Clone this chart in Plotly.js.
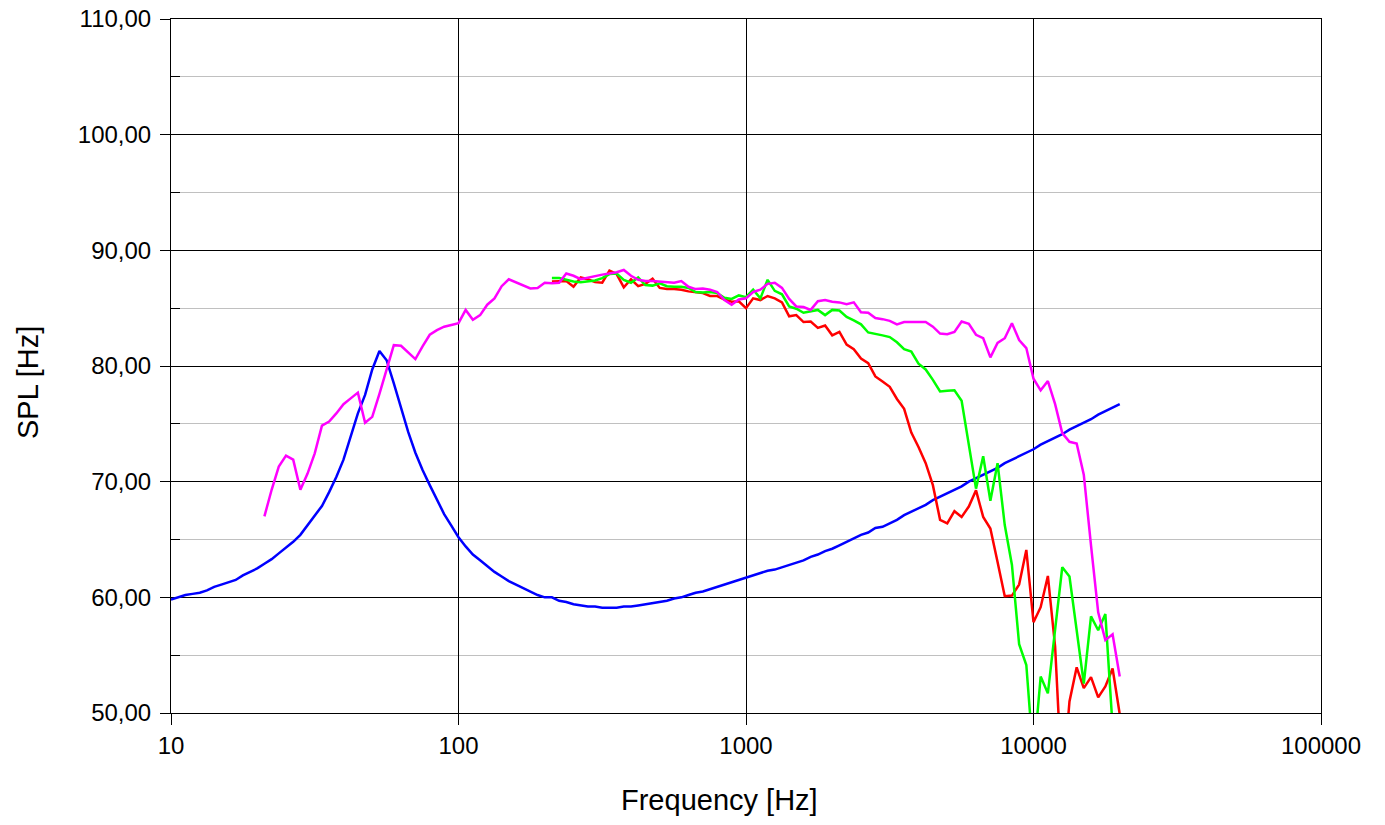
<!DOCTYPE html>
<html>
<head>
<meta charset="utf-8">
<script src="https://cdn.plot.ly/plotly-3.0.1.min.js"></script>
<style>
  html, body { margin: 0; padding: 0; background: #ffffff; }
  #chart { width: 1385px; height: 825px; }
</style>
</head>
<body>
<div id="chart"></div>
<script>
// Frequencies (Hz), 40 points per decade, shared by all curves
const freq = [
  10, 10.59, 11.22, 11.89, 12.59, 13.34, 14.13, 14.96, 15.85, 16.79,
  17.78, 18.84, 19.95, 21.13, 22.39, 23.71, 25.12, 26.61, 28.18, 29.85,
  31.62, 33.50, 35.48, 37.58, 39.81, 42.17, 44.67, 47.32, 50.12, 53.09,
  56.23, 59.57, 63.10, 66.83, 70.79, 74.99, 79.43, 84.14, 89.13, 94.41,
  100, 105.9, 112.2, 118.9, 125.9, 133.4, 141.3, 149.6, 158.5, 167.9,
  177.8, 188.4, 199.5, 211.3, 223.9, 237.1, 251.2, 266.1, 281.8, 298.5,
  316.2, 335.0, 354.8, 375.8, 398.1, 421.7, 446.7, 473.2, 501.2, 530.9,
  562.3, 595.7, 631.0, 668.3, 707.9, 749.9, 794.3, 841.4, 891.3, 944.1,
  1000, 1059, 1122, 1189, 1259, 1334, 1413, 1496, 1585, 1679,
  1778, 1884, 1995, 2113, 2239, 2371, 2512, 2661, 2818, 2985,
  3162, 3350, 3548, 3758, 3981, 4217, 4467, 4732, 5012, 5309,
  5623, 5957, 6310, 6683, 7079, 7499, 7943, 8414, 8913, 9441,
  10000, 10590, 11220, 11890, 12590, 13340, 14130, 14960, 15850, 16790,
  17780, 18840, 19950
];

// Blue curve (dB)
const splBlue = [
  59.8, 60.0, 60.2, 60.3, 60.4, 60.6, 60.9, 61.1, 61.3, 61.5,
  61.9, 62.2, 62.5, 62.9, 63.3, 63.8, 64.3, 64.8, 65.4, 66.2,
  67.0, 67.9, 69.1, 70.4, 71.9, 73.8, 75.9, 77.5, 79.7, 81.3,
  80.5, 78.5, 76.4, 74.3, 72.5, 71.0, 69.7, 68.5, 67.2, 66.2,
  65.2, 64.4, 63.7, 63.2, 62.7, 62.2, 61.8, 61.4, 61.1, 60.8,
  60.5, 60.2, 60.0, 60.0, 59.7, 59.6, 59.4, 59.3, 59.2, 59.2,
  59.1, 59.1, 59.1, 59.2, 59.2, 59.3, 59.4, 59.5, 59.6, 59.7,
  59.9, 60.0, 60.2, 60.4, 60.5, 60.7, 60.9, 61.1, 61.3, 61.5,
  61.7, 61.9, 62.1, 62.3, 62.4, 62.6, 62.8, 63.0, 63.2, 63.5,
  63.7, 64.0, 64.2, 64.5, 64.8, 65.1, 65.4, 65.6, 66.0, 66.1,
  66.4, 66.7, 67.1, 67.4, 67.7, 68.0, 68.4, 68.7, 69.0, 69.3,
  69.6, 70.0, 70.3, 70.6, 70.9, 71.2, 71.6, 71.9, 72.2, 72.5,
  72.8, 73.2, 73.5, 73.8, 74.1, 74.5, 74.8, 75.1, 75.4, 75.8,
  76.1, 76.4, 76.7
];

// Magenta curve (dB)
const splMagenta = [
  null, null, null, null, null, null, null, null, null, null,
  null, null, null,
  67.0, 69.3, 71.3, 72.25, 71.9, 69.3, 70.7, 72.45, 74.85, 75.2,
  75.9, 76.7, 77.2, 77.7, 75.1, 75.6, 77.6, 79.8, 81.8, 81.75,
  81.2, 80.6, 81.7, 82.7, 83.1, 83.4, 83.55, 83.7, 84.85, 84.0,
  84.4, 85.3, 85.85, 86.9, 87.5, 87.25, 87.0, 86.7, 86.75, 87.2,
  87.15, 87.2, 88.0, 87.8, 87.5, 87.65, 87.8, 87.9, 88.0, 88.1,
  88.3, 87.8, 87.45, 87.35, 87.35, 87.3, 87.25, 87.2, 87.35, 86.85,
  86.65, 86.7, 86.6, 86.4, 85.7, 85.3, 85.75, 85.85, 86.4, 86.6,
  87.1, 87.2, 86.75, 85.8, 85.15, 85.1, 84.85, 85.6, 85.7, 85.55,
  85.5, 85.35, 85.5, 84.65, 84.6, 84.15, 84.05, 83.9, 83.6, 83.8,
  83.8, 83.8, 83.8, 83.4, 82.8, 82.75, 82.95, 83.85, 83.65, 82.7,
  82.4, 80.75, 82.0, 82.4, 83.7, 82.25, 81.55, 78.9, 77.9, 78.7,
  76.7, 74.2, 73.45, 73.3, 70.6, 64.5, 58.7, 56.3, 56.8, 53.15
];

const lead53 = [
  null, null, null, null, null, null, null, null, null, null,
  null, null, null, null, null, null, null, null, null, null,
  null, null, null, null, null, null, null, null, null, null,
  null, null, null, null, null, null, null, null, null, null,
  null, null, null, null, null, null, null, null, null, null,
  null, null, null
];

// Red curve (dB), from about 210 Hz
const splRed = lead53.concat([
  87.3, 87.3, 87.35, 86.85, 87.65, 87.5, 87.25, 87.2, 88.25, 87.95,
  86.8, 87.5, 86.9, 87.1, 87.55, 86.75, 86.65, 86.65, 86.6, 86.45,
  86.4, 86.3, 86.05, 86.05, 85.75, 85.55, 85.6, 85.0, 85.85, 85.7,
  86.05, 85.85, 85.5, 84.3, 84.4, 83.8, 83.85, 83.3, 83.5, 82.65,
  82.95, 81.85, 81.45, 80.65, 80.25, 79.1, 78.65, 78.2, 77.15, 76.3,
  74.25, 73.0, 71.6, 69.7, 66.7, 66.4, 67.45, 66.95, 67.85, 69.25,
  66.95, 65.95, 63.05, 60.1, 60.15, 61.1, 64.1, 57.85, 59.15, 61.85,
  55.75, 43.5, 51.0, 53.95, 52.15, 53.1, 51.35, 52.3, 53.85, 49.9
]);

// Green curve (dB), from about 210 Hz
const splGreen = lead53.concat([
  87.6, 87.6, 87.45, 87.3, 87.25, 87.3, 87.4, 87.6, 87.95, 88.0,
  87.45, 87.2, 87.65, 87.0, 86.95, 87.15, 86.9, 86.85, 86.85, 86.75,
  86.4, 86.35, 86.4, 86.3, 85.9, 85.8, 86.1, 85.95, 86.6, 85.85,
  87.45, 86.5, 86.2, 85.15, 84.95, 84.6, 84.7, 84.85, 84.4, 84.85,
  84.8, 84.25, 83.95, 83.6, 82.9, 82.8, 82.65, 82.5, 82.05, 81.45,
  81.25, 80.2, 79.7, 78.8, 77.8, 77.85, 77.9, 77.0, 73.2, 69.4,
  72.2, 68.35, 71.6, 66.25, 62.8, 55.95, 54.15, 46.0, 53.15, 51.7,
  57.2, 62.6, 61.8, 57.0, 52.55, 58.35, 57.15, 58.55, 48.8, null
]);

// Axis ticks
const xTickVals = [10, 100, 1000, 10000, 100000];
const xTickText = ['10', '100', '1000', '10000', '100000'];
const yTickVals = [50, 60, 70, 80, 90, 100, 110];
const yTickText = ['50,00', '60,00', '70,00', '80,00', '90,00', '100,00', '110,00'];
const yMinorVals = [55, 65, 75, 85, 95, 105];

const xTitle = 'Frequency [Hz]';
const yTitle = 'SPL [Hz]';

const fontFamily = 'Liberation Sans, Arial, sans-serif';

function line(y, color) {
  return {
    x: freq, y: y, type: 'scatter', mode: 'lines',
    line: { color: color, width: 2.5 },
    connectgaps: false, hoverinfo: 'skip', showlegend: false
  };
}

const traces = [
  line(splBlue, '#0000ff'),
  line(splRed, '#ff0000'),
  line(splGreen, '#00ff00'),
  line(splMagenta, '#ff00ff')
];

const layout = {
  width: 1385, height: 825,
  margin: { l: 171, r: 64, t: 19, b: 112, pad: 0 },
  paper_bgcolor: '#ffffff', plot_bgcolor: '#ffffff',
  font: { family: fontFamily, size: 24, color: '#000000' },
  showlegend: false,
  xaxis: {
    type: 'log', range: [1, 5],
    tickmode: 'array', tickvals: xTickVals, ticktext: xTickText,
    ticks: 'outside', ticklen: 11, tickwidth: 1, tickcolor: '#000000',
    showgrid: true, gridcolor: '#000000', gridwidth: 1,
    showline: true, linecolor: '#000000', linewidth: 1, mirror: true,
    zeroline: false,
    tickfont: { family: fontFamily, size: 24, color: '#000000' }
  },
  yaxis: {
    range: [50, 110],
    tickmode: 'array', tickvals: yTickVals, ticktext: yTickText,
    ticks: 'outside', ticklen: 10, tickwidth: 1, tickcolor: '#000000',
    ticklabelstandoff: 4,
    showgrid: true, gridcolor: '#000000', gridwidth: 1,
    showline: true, linecolor: '#000000', linewidth: 1, mirror: true,
    zeroline: false,
    tickfont: { family: fontFamily, size: 24, color: '#000000' },
    minor: {
      tickmode: 'array', tickvals: yMinorVals,
      ticks: 'inside', ticklen: 9, tickwidth: 1, tickcolor: '#000000',
      showgrid: true, gridcolor: '#c0c0c0', gridwidth: 1
    }
  },
  annotations: [
    {
      text: xTitle, xref: 'paper', yref: 'paper',
      x: 0.477, y: -0.1254, xanchor: 'center', yanchor: 'middle',
      showarrow: false, font: { family: fontFamily, size: 29, color: '#000000' }
    },
    {
      text: yTitle, xref: 'paper', yref: 'paper',
      x: -0.1243, y: 0.4755, xanchor: 'center', yanchor: 'middle',
      textangle: -90,
      showarrow: false, font: { family: fontFamily, size: 29, color: '#000000' }
    }
  ]
};

Plotly.newPlot('chart', traces, layout, { displayModeBar: false, staticPlot: true });
</script>
</body>
</html>
